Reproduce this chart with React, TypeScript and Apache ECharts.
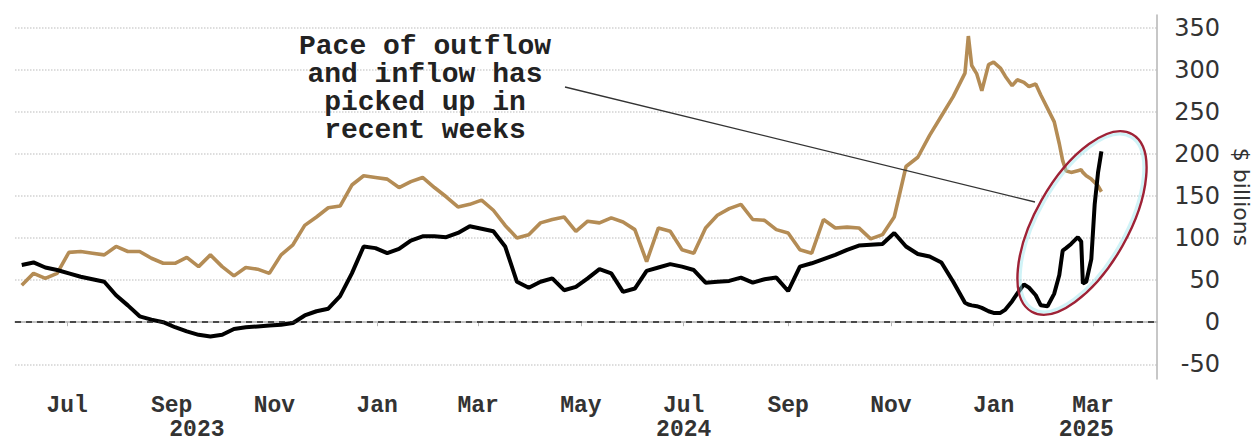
import React, { useEffect, useRef } from 'react';
import * as echarts from 'echarts';

// Observation dates (weekly, finer near the end)
const dates = [
  '2023-06-04','2023-06-11','2023-06-18','2023-06-25','2023-07-02','2023-07-09','2023-07-16','2023-07-23','2023-07-30',
  '2023-08-06','2023-08-13','2023-08-20','2023-08-27','2023-09-03','2023-09-10','2023-09-17','2023-09-24',
  '2023-10-01','2023-10-08','2023-10-15','2023-10-22','2023-10-29','2023-11-05','2023-11-12','2023-11-19','2023-11-26',
  '2023-12-03','2023-12-10','2023-12-17','2023-12-24','2023-12-31','2024-01-07','2024-01-14','2024-01-21','2024-01-28',
  '2024-02-04','2024-02-11','2024-02-18','2024-02-25','2024-03-03','2024-03-10','2024-03-17','2024-03-24','2024-03-31',
  '2024-04-07','2024-04-14','2024-04-21','2024-04-28','2024-05-05','2024-05-12','2024-05-19','2024-05-26',
  '2024-06-02','2024-06-09','2024-06-16','2024-06-23','2024-06-30','2024-07-07','2024-07-14','2024-07-21','2024-07-28',
  '2024-08-04','2024-08-11','2024-08-18','2024-08-25','2024-09-01','2024-09-08','2024-09-15','2024-09-22','2024-09-29',
  '2024-10-06','2024-10-13','2024-10-20','2024-10-27','2024-11-03','2024-11-10','2024-11-17','2024-11-24',
  '2024-12-01','2024-12-08','2024-12-15','2024-12-17','2024-12-19','2024-12-22','2024-12-25','2024-12-29',
  '2025-01-01','2025-01-05','2025-01-08','2025-01-12','2025-01-15','2025-01-19','2025-01-22','2025-01-26','2025-01-29',
  '2025-02-02','2025-02-06','2025-02-09','2025-02-11','2025-02-13','2025-02-16','2025-02-20','2025-02-22','2025-02-23',
  '2025-02-25','2025-02-28','2025-03-02','2025-03-04','2025-03-06',
];

// Tan line ($ billions)
const tanValues = [
  44, 58, 52, 58, 83, 84, 82, 80, 90,
  84, 84, 76, 70, 70, 77, 66, 80,
  66, 55, 65, 63, 58, 80, 92, 115, 125,
  136, 138, 163, 174, 172, 170, 160, 167, 172,
  160, 149, 137, 140, 145, 133, 115, 100, 104,
  118, 122, 125, 108, 120, 118, 124, 119,
  110, 72, 112, 108, 86, 82, 112, 127, 135,
  140, 122, 121, 110, 106, 86, 82, 122, 112,
  113, 112, 99, 104, 125, 185, 196, 222,
  245, 268, 296, 340, 305, 295, 275, 306,
  309, 302, 292, 281, 288, 285, 280, 283, 270,
  254, 238, 212, 192, 180, 178, 180, 181, 178,
  174, 170, 166, 162, 155,
];

// Black line ($ billions)
const blackValues = [
  68, 71, 65, 62, 58, 54, 51, 48, 32,
  20, 7, 3, 0, -6, -11, -15, -17,
  -15, -8, -6, -5, -4, -3, -1, 8, 13,
  16, 31, 58, 90, 88, 82, 87, 97, 102,
  102, 101, 106, 114, 111, 108, 90, 48, 41,
  48, 52, 38, 42, 52, 63, 58, 36,
  40, 61, 65, 69, 66, 62, 47, 48, 49,
  53, 47, 51, 53, 37, 66, 70, 75, 80,
  86, 91, 92, 93, 106, 90, 81, 78,
  71, 48, 23, 21, 20, 19, 17, 13,
  11, 11, 15, 25, 34, 45, 41, 32, 20,
  19, 34, 56, 85, 88, 93, 101, 96, 46,
  48, 75, 140, 178, 203,
];

const monthTickDates = [
  '2023-07-01','2023-09-01','2023-11-01','2024-01-01','2024-03-01','2024-05-01',
  '2024-07-01','2024-09-01','2024-11-01','2025-01-01','2025-03-01',
];
const monthNames = ['Jan','Feb','Mar','Apr','May','Jun','Jul','Aug','Sep','Oct','Nov','Dec'];
const yearLabelDates = ['2023-09-16', '2024-07-01', '2025-02-25'];

const X_MIN = '2023-05-31';
const X_MAX = '2025-04-08';
const Y_MIN = -67.5;
const Y_MAX = 365;

const annotationText = 'Pace of outflow\nand inflow has\npicked up in\nrecent weeks';

const toTs = (s: string) => {
  const [y, m, d] = s.split('-').map(Number);
  return new Date(y, m - 1, d).getTime();
};

export default function App() {
  const ref = useRef<HTMLDivElement>(null);

  useEffect(() => {
    if (!ref.current) return;
    const chart = echarts.init(ref.current, undefined, { renderer: 'svg' });
    const monthTs = monthTickDates.map(toTs);
    const yearTs = yearLabelDates.map(toTs);
    const tanData = dates.map((d, i) => [toTs(d), tanValues[i]]);
    const blackData = dates.map((d, i) => [toTs(d), blackValues[i]]);

    const xLabelFont = {
      color: '#333',
      fontFamily: '"Liberation Mono"',
      fontWeight: 'bold' as const,
      fontSize: 23,
      lineHeight: 23,
    };

    chart.setOption({
      animation: false,
      backgroundColor: '#ffffff',
      grid: { left: 15, right: 100, top: 15, bottom: 63, outerBoundsMode: 'none' },
      xAxis: [
        {
          type: 'value',
          min: toTs(X_MIN),
          max: toTs(X_MAX),
          axisLine: { show: true, lineStyle: { color: '#b5b5b5', width: 1.5 } },
          axisTick: { show: true, customValues: monthTs, length: 4, lineStyle: { color: '#b5b5b5' } },
          axisLabel: {
            customValues: monthTs,
            formatter: (v: number) => monthNames[new Date(v).getMonth()],
            ...xLabelFont,
            margin: 15,
          },
          splitLine: { show: false },
        },
        {
          type: 'value',
          position: 'bottom',
          min: toTs(X_MIN),
          max: toTs(X_MAX),
          axisLine: { show: false },
          axisTick: { show: false },
          splitLine: { show: false },
          axisLabel: {
            customValues: yearTs,
            formatter: (v: number) => String(new Date(v).getFullYear()),
            ...xLabelFont,
            margin: 39,
          },
        },
      ],
      yAxis: {
        type: 'value',
        position: 'right',
        min: Y_MIN,
        max: Y_MAX,
        splitNumber: 9,
        axisLine: { show: true, lineStyle: { color: '#b5b5b5', width: 1.5 } },
        axisTick: { show: false },
        axisLabel: {
          showMinLabel: false,
          showMaxLabel: false,
          color: '#333',
          fontFamily: '"DejaVu Sans"',
          fontSize: 24,
          align: 'right',
          margin: 63,
        },
        splitLine: {
          show: true,
          showMinLine: false,
          showMaxLine: false,
          lineStyle: { color: '#d2d2d2', type: 'dotted', width: 1.5 },
        },
        name: '$ billions',
        nameLocation: 'middle',
        nameRotate: -90,
        nameGap: 72,
        nameTextStyle: { color: '#333', fontFamily: '"DejaVu Sans"', fontSize: 22 },
      },
      series: [
        {
          name: 'Tan',
          type: 'line',
          xAxisIndex: 0,
          data: tanData,
          showSymbol: false,
          symbol: 'none',
          lineStyle: { color: '#b48c55', width: 3.6 },
          z: 2,
        },
        {
          name: 'Black',
          type: 'line',
          xAxisIndex: 0,
          data: blackData,
          showSymbol: false,
          symbol: 'none',
          lineStyle: { color: '#000000', width: 4 },
          z: 3,
          markLine: {
            silent: true,
            symbol: ['none', 'none'],
            label: { show: false },
            lineStyle: { color: '#222', type: [6, 5], width: 1.5 },
            data: [{ yAxis: 0 }],
          },
        },
      ],
      graphic: [
        {
          type: 'text',
          x: 425,
          y: 32,
          style: {
            text: annotationText,
            font: 'bold 28px "Liberation Mono"',
            fill: '#222',
            align: 'center',
            verticalAlign: 'top',
            lineHeight: 28,
          },
          z: 10,
        },
        {
          type: 'line',
          shape: { x1: 565, y1: 87, x2: 1035, y2: 202 },
          style: { stroke: '#333', lineWidth: 1.3 },
          z: 10,
        },
        {
          type: 'ellipse',
          x: 1082,
          y: 223,
          rotation: -0.515,
          shape: { cx: 0, cy: 0, rx: 43.5, ry: 99 },
          style: { fill: 'none', stroke: 'rgba(150,228,238,0.45)', lineWidth: 3 },
          z: 10,
        },
        {
          type: 'ellipse',
          x: 1082,
          y: 223,
          rotation: -0.515,
          shape: { cx: 0, cy: 0, rx: 46.5, ry: 102 },
          style: { fill: 'none', stroke: '#9e2236', lineWidth: 2.4 },
          z: 11,
        },
      ],
    });

    return () => chart.dispose();
  }, []);

  return (
    <div
      ref={ref}
      style={{ position: 'fixed', left: 0, top: 0, width: 1257, height: 442, background: '#fff' }}
    />
  );
}
